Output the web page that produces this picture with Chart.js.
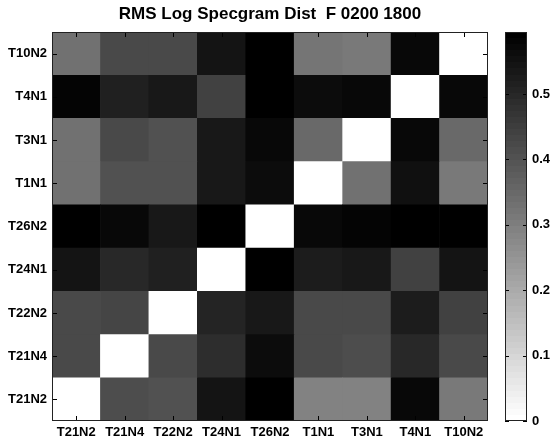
<!DOCTYPE html>
<html>
<head>
<meta charset="utf-8">
<script src="https://cdn.jsdelivr.net/npm/chart.js@4.4.1/dist/chart.umd.min.js"></script>
<style>
  html, body { margin: 0; padding: 0; background: #fff; }
  #wrap { position: relative; width: 552px; height: 443px; }
  #heat { position: absolute; left: 0; top: 0; }
  #cbar { position: absolute; left: 500px; top: 0; }
</style>
</head>
<body>
<div id="wrap">
  <canvas id="heat" width="500" height="443"></canvas>
  <canvas id="cbar" width="52" height="443"></canvas>
</div>
<script>
  "use strict";

  // stations, bottom row first (same order along x)
  const stations = ['T21N2', 'T21N4', 'T22N2', 'T24N1', 'T26N2', 'T1N1', 'T3N1', 'T4N1', 'T10N2'];

  // RMS distance matrix, one array per row
  const distT21N2 = [0.000, 0.418, 0.408, 0.546, 0.595, 0.296, 0.296, 0.576, 0.315];
  const distT21N4 = [0.427, 0.000, 0.427, 0.492, 0.567, 0.427, 0.418, 0.502, 0.427];
  const distT22N2 = [0.427, 0.434, 0.000, 0.509, 0.539, 0.427, 0.427, 0.525, 0.446];
  const distT24N1 = [0.546, 0.497, 0.516, 0.000, 0.595, 0.525, 0.534, 0.446, 0.546];
  const distT26N2 = [0.595, 0.572, 0.539, 0.595, 0.000, 0.572, 0.583, 0.595, 0.595];
  const distT1N1  = [0.329, 0.408, 0.408, 0.530, 0.567, 0.000, 0.334, 0.553, 0.315];
  const distT3N1  = [0.329, 0.422, 0.408, 0.539, 0.576, 0.348, 0.000, 0.572, 0.348];
  const distT4N1  = [0.583, 0.516, 0.530, 0.446, 0.595, 0.558, 0.572, 0.000, 0.576];
  const distT10N2 = [0.334, 0.427, 0.422, 0.546, 0.595, 0.322, 0.315, 0.572, 0.000];
  const rows = [distT21N2, distT21N4, distT22N2, distT24N1, distT26N2, distT1N1, distT3N1, distT4N1, distT10N2];

  // colour scale limits and colorbar ticks
  const cmin = 0;
  const cmax = 0.595;
  const cbarTicks = [0, 0.1, 0.2, 0.3, 0.4, 0.5];

  const FONT = '"Liberation Sans", Arial, Helvetica, sans-serif';
  const NLEVELS = 64;

  // inverted gray colormap, 64 steps
  function grayLevel(v) {
    let k = Math.floor((v - cmin) / (cmax - cmin) * NLEVELS);
    k = Math.max(0, Math.min(NLEVELS - 1, k));
    const g = Math.round(255 * (1 - k / (NLEVELS - 1)));
    return 'rgb(' + g + ',' + g + ',' + g + ')';
  }

  // short inward tick marks + box round the plot area
  function drawFrame(chart, xTicks, yTicks, len) {
    const ctx = chart.ctx;
    const a = chart.chartArea;
    ctx.save();
    ctx.strokeStyle = '#000';
    ctx.lineWidth = 1;
    ctx.beginPath();
    xTicks.forEach(function (x) {
      x = Math.round(x) + 0.5;
      ctx.moveTo(x, a.bottom); ctx.lineTo(x, a.bottom - len);
      ctx.moveTo(x, a.top); ctx.lineTo(x, a.top + len);
    });
    yTicks.forEach(function (y) {
      y = Math.round(y) + 0.5;
      ctx.moveTo(a.left, y); ctx.lineTo(a.left + len, y);
      ctx.moveTo(a.right, y); ctx.lineTo(a.right - len, y);
    });
    ctx.stroke();
    ctx.strokeStyle = '#222';
    ctx.strokeRect(Math.round(a.left) + 0.5, Math.round(a.top) + 0.5,
      Math.round(a.right - a.left) - 1, Math.round(a.bottom - a.top) - 1);
    ctx.restore();
  }

  const heatFrame = {
    id: 'heatFrame',
    afterDraw: function (chart) {
      const sx = chart.scales.x, sy = chart.scales.y;
      const xs = stations.map(function (_, i) { return sx.getPixelForValue(i); });
      const ys = stations.map(function (_, i) { return sy.getPixelForValue(i + 0.5); });
      drawFrame(chart, xs, ys, 5);

      const a = chart.chartArea;
      const ctx = chart.ctx;
      ctx.save();
      ctx.fillStyle = '#000';
      ctx.font = 'bold 17px ' + FONT;
      ctx.textAlign = 'center';
      ctx.textBaseline = 'middle';
      ctx.fillText('RMS Log Specgram Dist  F 0200 1800', (a.left + a.right) / 2, 14);
      ctx.restore();
    }
  };

  // one stacked dataset per row, each cell one unit tall
  const heatDatasets = rows.map(function (row, r) {
    return {
      label: stations[r],
      data: row.map(function () { return 1; }),
      backgroundColor: row.map(grayLevel),
      borderWidth: 0,
      barPercentage: 1,
      categoryPercentage: 1
    };
  });

  new Chart(document.getElementById('heat'), {
    type: 'bar',
    data: { labels: stations, datasets: heatDatasets },
    options: {
      responsive: false,
      animation: false,
      layout: { padding: { top: 32, right: 12, left: 0, bottom: 0 } },
      plugins: { legend: { display: false }, tooltip: { enabled: false } },
      scales: {
        x: {
          stacked: true,
          grid: { display: false, drawTicks: false },
          border: { display: false },
          ticks: { color: '#000', padding: 4, maxRotation: 0, font: { family: FONT, size: 13, weight: 'bold' } },
          afterFit: function (s) { s.height = 22; }
        },
        y: {
          stacked: true,
          min: 0,
          max: stations.length,
          grid: { display: false, drawTicks: false },
          border: { display: false },
          afterBuildTicks: function (s) {
            s.ticks = stations.map(function (_, i) { return { value: i + 0.5 }; });
          },
          ticks: {
            color: '#000',
            padding: 5,
            font: { family: FONT, size: 13, weight: 'bold' },
            callback: function (v) { return stations[Math.floor(v)]; }
          },
          afterFit: function (s) { s.width = 52; }
        }
      }
    },
    plugins: [heatFrame]
  });

  // colorbar: a single floating bar over the colour range, filled with the stepped map
  const cbarFrame = {
    id: 'cbarFrame',
    afterDraw: function (chart) {
      const sy = chart.scales.y;
      drawFrame(chart, [], cbarTicks.map(function (t) { return sy.getPixelForValue(t); }), 4);
    }
  };

  function cbarFill(context) {
    const a = context.chart.chartArea;
    if (!a) return '#000';
    const grad = context.chart.ctx.createLinearGradient(0, a.bottom, 0, a.top);
    for (let k = 0; k < NLEVELS; k++) {
      const g = Math.round(255 * (1 - k / (NLEVELS - 1)));
      const c = 'rgb(' + g + ',' + g + ',' + g + ')';
      grad.addColorStop(k / NLEVELS, c);
      grad.addColorStop((k + 1) / NLEVELS, c);
    }
    return grad;
  }

  new Chart(document.getElementById('cbar'), {
    type: 'bar',
    data: {
      labels: [''],
      datasets: [{
        data: [[cmin, cmax]],
        backgroundColor: cbarFill,
        borderWidth: 0,
        barPercentage: 1,
        categoryPercentage: 1
      }]
    },
    options: {
      responsive: false,
      animation: false,
      layout: { padding: { top: 32, left: 5, right: 0, bottom: 22 } },
      plugins: { legend: { display: false }, tooltip: { enabled: false } },
      scales: {
        x: { display: false },
        y: {
          position: 'right',
          min: cmin,
          max: cmax,
          grid: { display: false, drawTicks: false },
          border: { display: false },
          afterBuildTicks: function (s) {
            s.ticks = cbarTicks.map(function (t) { return { value: t }; });
          },
          ticks: {
            color: '#000',
            padding: 5,
            font: { family: FONT, size: 13, weight: 'bold' },
            callback: function (v) { return String(v); }
          },
          afterFit: function (s) { s.width = 25; }
        }
      }
    },
    plugins: [cbarFrame]
  });
</script>
</body>
</html>
